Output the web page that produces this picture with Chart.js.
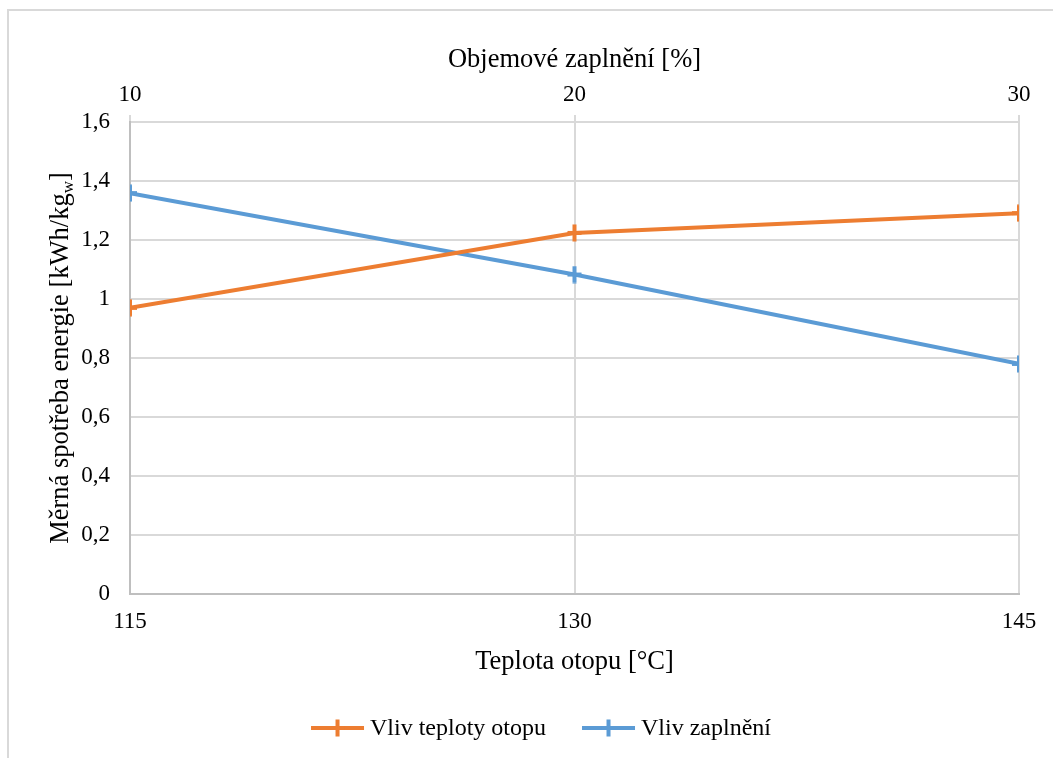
<!DOCTYPE html>
<html>
<head>
<meta charset="utf-8">
<script src="https://cdn.jsdelivr.net/npm/chart.js@4/dist/chart.umd.min.js"></script>
<style>
  html, body { margin: 0; padding: 0; background: #fff; overflow: hidden; }
  #frame { position: absolute; left: 7px; top: 9px; width: 1100px; height: 800px;
           border-top: 2px solid #d9d9d9; border-left: 2px solid #d9d9d9; }
  #wrap { position: absolute; left: 0; top: 0; width: 1053px; height: 758px; }
</style>
</head>
<body>
<div id="frame"></div>
<div id="wrap"><canvas id="chart"></canvas></div>
<script>
// data
var temperatures = [115, 130, 145];     // Teplota otopu [°C] (bottom axis)
var fillLevels = [10, 20, 30];          // Objemové zaplnění [%] (top axis)
var tempEffect = [0.97, 1.224, 1.291];  // Vliv teploty otopu
var fillEffect = [1.359, 1.083, 0.78];  // Vliv zaplnění
var seriesNames = ["Vliv teploty otopu", "Vliv zaplnění"];
var seriesColors = ["#ED7D31", "#5B9BD5"];

var FONT = "'Liberation Serif', 'Times New Roman', serif";
var TICK_SIZE = 23;
var TITLE_SIZE = 26.5;

function pairs(xs, ys) {
	var out = [];
	for (var i = 0; i < xs.length; i++) out.push({x: xs[i], y: ys[i]});
	return out;
}

function drawCross(ctx, x, y, color) {
	ctx.strokeStyle = color;
	ctx.lineWidth = 4;
	ctx.beginPath();
	ctx.moveTo(x, y - 8.5);
	ctx.lineTo(x, y + 8.5);
	ctx.moveTo(x - 7, y);
	ctx.lineTo(x + 7, y);
	ctx.stroke();
}

// marker image used as pointStyle
function crossImage(color) {
	var c = document.createElement("canvas");
	c.width = 18; c.height = 18;
	drawCross(c.getContext("2d"), 9, 9, color);
	return c;
}

// y axis title with subscript + custom legend (line with a cross)
var extrasPlugin = {
	id: "extras",
	afterDraw: function(chart) {
		var ctx = chart.ctx;
		var area = chart.chartArea;
		ctx.save();
		ctx.fillStyle = "#000";
		ctx.textBaseline = "alphabetic";
		var main = "Měrná spotřeba energie [kWh/kg";
		var sub = "w";
		var end = "]";
		ctx.font = TITLE_SIZE + "px " + FONT;
		var w1 = ctx.measureText(main).width;
		var w3 = ctx.measureText(end).width;
		ctx.font = "17px " + FONT;
		var w2 = ctx.measureText(sub).width;
		var total = w1 + w2 + w3;
		ctx.translate(68, (area.top + area.bottom) / 2);
		ctx.rotate(-Math.PI / 2);
		ctx.textAlign = "left";
		var x = -total / 2;
		ctx.font = TITLE_SIZE + "px " + FONT;
		ctx.fillText(main, x, 0);
		x += w1;
		ctx.font = "17px " + FONT;
		ctx.fillText(sub, x, 5);
		x += w2;
		ctx.font = TITLE_SIZE + "px " + FONT;
		ctx.fillText(end, x, 0);
		ctx.restore();

		// legend
		ctx.save();
		ctx.font = "24px " + FONT;
		ctx.textBaseline = "middle";
		ctx.textAlign = "left";
		var lineW = 53, gapText = 6, gapItem = 36, cy = 728;
		var widths = chart.data.datasets.map(function(ds) { return ctx.measureText(ds.label).width; });
		var full = 0;
		widths.forEach(function(w, i) { full += lineW + gapText + w + (i ? gapItem : 0); });
		var lx = 541 - full / 2;
		chart.data.datasets.forEach(function(ds, i) {
			ctx.strokeStyle = ds.borderColor;
			ctx.lineWidth = 4;
			ctx.beginPath();
			ctx.moveTo(lx, cy);
			ctx.lineTo(lx + lineW, cy);
			ctx.stroke();
			drawCross(ctx, lx + lineW / 2, cy, ds.borderColor);
			ctx.fillStyle = "#000";
			ctx.fillText(ds.label, lx + lineW + gapText, cy + 1);
			lx += lineW + gapText + widths[i] + gapItem;
		});
		ctx.restore();
	}
};

function series(i, xs, ys, axis) {
	return {
		label: seriesNames[i],
		data: pairs(xs, ys),
		xAxisID: axis,
		borderColor: seriesColors[i],
		backgroundColor: seriesColors[i],
		borderWidth: 4,
		pointStyle: crossImage(seriesColors[i]),
		pointRadius: 9,
		pointHoverRadius: 9,
		tension: 0
	};
}

new Chart(document.getElementById("chart"), {
	type: "line",
	data: {
		datasets: [
			series(0, temperatures, tempEffect, "x"),
			series(1, fillLevels, fillEffect, "x2")
		]
	},
	options: {
		responsive: true,
		maintainAspectRatio: false,
		animation: false,
		layout: { padding: { left: 0, right: 34, top: 0, bottom: 0 } },
		plugins: { legend: { display: false }, tooltip: { enabled: false } },
		scales: {
			x: {
				type: "linear",
				position: "bottom",
				min: temperatures[0],
				max: temperatures[temperatures.length - 1],
				afterBuildTicks: function(s) { s.ticks = temperatures.map(function(v) { return {value: v}; }); },
				grid: { drawOnChartArea: false, drawTicks: false },
				border: { color: "#bfbfbf", width: 2 },
				ticks: { color: "#000", font: { family: FONT, size: TICK_SIZE }, padding: 14, maxRotation: 0 },
				title: { display: true, text: "Teplota otopu [°C]", color: "#000",
					font: { family: FONT, size: TITLE_SIZE }, padding: { top: 0, bottom: 80 } },
				afterFit: function(s) { s.height = 164; }
			},
			x2: {
				type: "linear",
				position: "top",
				min: fillLevels[0],
				max: fillLevels[fillLevels.length - 1],
				afterBuildTicks: function(s) { s.ticks = fillLevels.map(function(v) { return {value: v}; }); },
				grid: { color: "#d9d9d9", lineWidth: 2, tickLength: 7, drawTicks: true },
				border: { display: false },
				ticks: { color: "#000", font: { family: FONT, size: TICK_SIZE }, padding: 6, maxRotation: 0 },
				title: { display: true, text: "Objemové zaplnění [%]", color: "#000",
					font: { family: FONT, size: TITLE_SIZE }, padding: { top: 44, bottom: 0 } },
				afterFit: function(s) { s.height = 122; }
			},
			y: {
				min: 0,
				max: 1.6,
				ticks: {
					stepSize: 0.2,
					color: "#000",
					font: { family: FONT, size: TICK_SIZE },
					padding: 20,
					callback: function(v) { return String(Math.round(v * 10) / 10).replace(".", ","); }
				},
				grid: { color: "#d9d9d9", lineWidth: 2, drawTicks: false },
				border: { color: "#bfbfbf", width: 2 },
				afterFit: function(s) { s.width = 130; }
			}
		}
	},
	plugins: [extrasPlugin]
});
</script>
</body>
</html>
